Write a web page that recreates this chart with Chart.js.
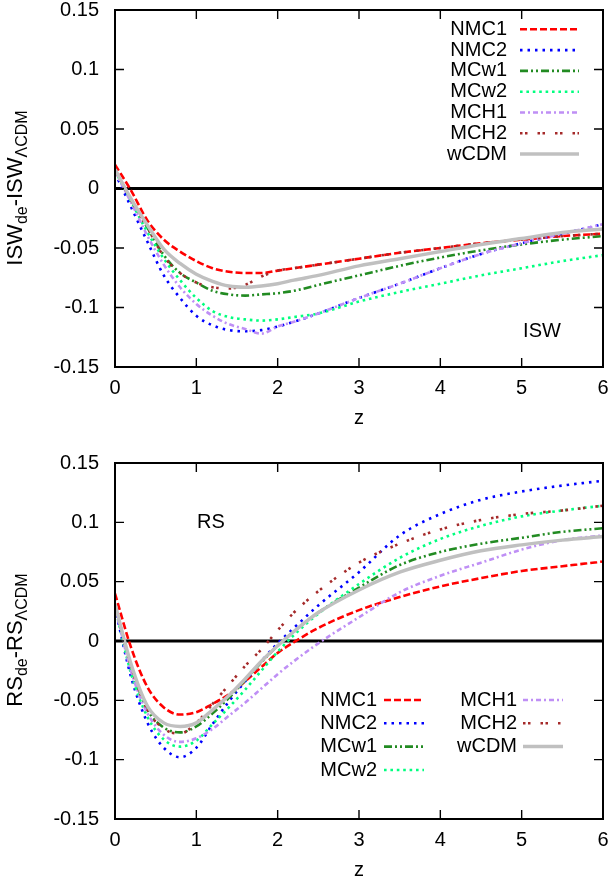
<!DOCTYPE html>
<html><head><meta charset="utf-8">
<script src="https://cdn.jsdelivr.net/npm/chart.js@4.4.1/dist/chart.umd.min.js"></script>
<style>
html,body{margin:0;padding:0;background:#fff;}
#wrap{position:relative;width:614px;height:883px;overflow:hidden;}
canvas{position:absolute;left:0;}
</style></head><body>
<div id="wrap">
<canvas id="isw" width="614" height="441" style="top:0"></canvas>
<canvas id="rs" width="614" height="442" style="top:441px"></canvas>
</div>
<script>
// ---------- DATA ----------
const seriesNames = ['NMC1','NMC2','MCw1','MCw2','MCH1','MCH2','wCDM'];
const z = [0,0.2,0.4,0.6,0.8,1.0,1.2,1.4,1.6,1.8,2.0,2.2,2.5,3.0,3.5,4.0,4.5,5.0,5.5,6.0];

// ISW_de - ISW_LCDM (top panel)
const iswNMC1 = [0.020,-0.002,-0.027,-0.043,-0.053,-0.061,-0.067,-0.070,-0.071,-0.071,-0.069,-0.067,-0.064,-0.059,-0.054,-0.050,-0.046,-0.043,-0.040,-0.038];
const iswNMC2 = [0.013,-0.016,-0.045,-0.073,-0.092,-0.107,-0.115,-0.119,-0.120,-0.119,-0.116,-0.112,-0.105,-0.092,-0.080,-0.067,-0.055,-0.046,-0.038,-0.030];
const iswMCw1 = [0.016,-0.010,-0.033,-0.056,-0.071,-0.079,-0.086,-0.089,-0.090,-0.089,-0.088,-0.086,-0.081,-0.073,-0.065,-0.058,-0.052,-0.047,-0.043,-0.040];
const iswMCw2 = [0.015,-0.011,-0.037,-0.059,-0.077,-0.092,-0.103,-0.108,-0.110,-0.111,-0.110,-0.108,-0.105,-0.095,-0.087,-0.080,-0.073,-0.067,-0.061,-0.056];
const iswMCH1 = [0.014,-0.012,-0.040,-0.064,-0.083,-0.097,-0.107,-0.114,-0.118,-0.122,-0.116,-0.112,-0.105,-0.092,-0.080,-0.067,-0.055,-0.046,-0.038,-0.030];
const iswMCH2 = [0.016,-0.010,-0.033,-0.057,-0.071,-0.079,-0.083,-0.084,-0.081,-0.074,-0.069,-0.067,-0.064,-0.059,-0.054,-0.050,-0.046,-0.043,-0.040,-0.038];
const iswWCDM = [0.016,-0.009,-0.031,-0.051,-0.063,-0.072,-0.078,-0.082,-0.083,-0.082,-0.080,-0.077,-0.073,-0.065,-0.059,-0.053,-0.047,-0.042,-0.037,-0.034];

// RS_de - RS_LCDM (bottom panel)
const rsNMC1 = [0.040,-0.006,-0.039,-0.056,-0.062,-0.060,-0.053,-0.045,-0.034,-0.022,-0.010,-0.001,0.011,0.026,0.037,0.046,0.053,0.059,0.063,0.067];
const rsNMC2 = [0.028,-0.031,-0.069,-0.090,-0.098,-0.090,-0.070,-0.051,-0.034,-0.017,-0.002,0.011,0.030,0.058,0.089,0.107,0.119,0.126,0.131,0.135];
const rsMCw1 = [0.031,-0.022,-0.058,-0.073,-0.077,-0.072,-0.061,-0.048,-0.033,-0.018,-0.004,0.008,0.024,0.045,0.064,0.075,0.082,0.087,0.092,0.095];
const rsMCw2 = [0.029,-0.028,-0.064,-0.083,-0.089,-0.084,-0.070,-0.056,-0.041,-0.025,-0.009,0.005,0.023,0.048,0.070,0.086,0.097,0.105,0.110,0.114];
const rsMCH1 = [0.029,-0.026,-0.061,-0.079,-0.085,-0.082,-0.074,-0.063,-0.052,-0.040,-0.028,-0.017,-0.002,0.020,0.041,0.055,0.066,0.077,0.085,0.089];
const rsMCH2 = [0.031,-0.022,-0.058,-0.074,-0.078,-0.069,-0.053,-0.037,-0.021,-0.007,0.009,0.024,0.042,0.066,0.082,0.094,0.102,0.107,0.110,0.114];
const rsWCDM = [0.031,-0.020,-0.055,-0.069,-0.072,-0.069,-0.058,-0.046,-0.032,-0.017,-0.004,0.008,0.024,0.043,0.058,0.068,0.076,0.081,0.085,0.088];

const xTickValues = [0,1,2,3,4,5,6];
const xTickLabels = ['0','1','2','3','4','5','6'];
const yTickValues = [-0.15,-0.1,-0.05,0,0.05,0.1,0.15];
const yTickLabels = ['-0.15','-0.1','-0.05','0','0.05','0.1','0.15'];

// ---------- STYLE ----------
const FONT = "'Liberation Sans', Arial, Helvetica, sans-serif";
const seriesStyles = [
  {color:'#ff0000', width:2.6, dash:[7,3]},
  {color:'#0000ff', width:2.6, dash:[2.5,5]},
  {color:'#228b22', width:2.6, dash:[8,3,2,3,2,3]},
  {color:'#00ff7f', width:2.6, dash:[2.6,3.8]},
  {color:'#bf8ff5', width:2.6, dash:[5,3,2,3]},
  {color:'#a52a2a', width:2.6, dash:[2.5,2.5,2.5,10]},
  {color:'#c0c0c0', width:3.5, dash:[]}
];

function makeDatasets(seriesList){
  return seriesList.map((vals,i)=>({
    label: seriesNames[i],
    data: z.map((x,k)=>({x:x, y:vals[k]})),
    borderColor: seriesStyles[i].color,
    backgroundColor: seriesStyles[i].color,
    borderWidth: seriesStyles[i].width,
    borderDash: seriesStyles[i].dash,
    borderCapStyle: 'butt',
    pointRadius: 0,
    fill: false,
    cubicInterpolationMode: 'monotone',
    order: seriesNames.length - i
  }));
}

const framePlugin = {
  id: 'frame',
  beforeDatasetsDraw(chart){
    const {ctx, chartArea:{left,right}, scales:{y}} = chart;
    const y0 = y.getPixelForValue(0);
    ctx.save();
    ctx.strokeStyle = '#000'; ctx.lineWidth = 3;
    ctx.beginPath(); ctx.moveTo(left, y0); ctx.lineTo(right, y0); ctx.stroke();
    ctx.restore();
  },
  afterDatasetsDraw(chart, args, opts){
    const {ctx, chartArea:{left,right,top,bottom}, scales:{x,y}} = chart;
    ctx.save();
    ctx.strokeStyle = '#000';
    ctx.lineWidth = 1.4;
    ctx.setLineDash([]);
    ctx.beginPath();
    const tl = 9;
    x.ticks.forEach(t=>{
      const px = x.getPixelForValue(t.value);
      if (px <= left+1 || px >= right-1) return;
      ctx.moveTo(px, bottom); ctx.lineTo(px, bottom - tl);
      ctx.moveTo(px, top); ctx.lineTo(px, top + tl);
    });
    y.ticks.forEach(t=>{
      const py = y.getPixelForValue(t.value);
      if (py <= top+1 || py >= bottom-1) return;
      ctx.moveTo(left, py); ctx.lineTo(left + tl, py);
      ctx.moveTo(right, py); ctx.lineTo(right - tl, py);
    });
    ctx.stroke();
    ctx.lineWidth = 2;
    ctx.strokeRect(left, top, right-left, bottom-top);

    // legend entries
    ctx.font = '20px ' + FONT;
    ctx.fillStyle = '#000';
    ctx.textAlign = 'right';
    ctx.textBaseline = 'middle';
    opts.legend.forEach(e=>{
      const ds = chart.data.datasets[e.index];
      ctx.fillStyle = '#000';
      ctx.fillText(ds.label, e.textRight, e.y);
      ctx.save();
      ctx.strokeStyle = ds.borderColor;
      ctx.lineWidth = ds.borderWidth;
      ctx.lineCap = 'butt';
      ctx.setLineDash(ds.borderDash);
      ctx.beginPath(); ctx.moveTo(e.x0, e.y); ctx.lineTo(e.x1, e.y); ctx.stroke();
      ctx.restore();
    });

    // panel label
    ctx.textAlign = 'center';
    ctx.fillText(opts.panelLabel.text, opts.panelLabel.x, opts.panelLabel.y);

    // rotated y-axis title with subscripts
    const parts = opts.yTitle.parts;
    const mainF = '22px ' + FONT, subF = '16px ' + FONT;
    let total = 0;
    parts.forEach(p=>{ ctx.font = p.sub ? subF : mainF; total += ctx.measureText(p.t).width; });
    ctx.translate(opts.yTitle.baseX, opts.yTitle.cy);
    ctx.rotate(-Math.PI/2);
    ctx.textAlign = 'left';
    ctx.textBaseline = 'alphabetic';
    let cx = -total/2;
    parts.forEach(p=>{
      ctx.font = p.sub ? subF : mainF;
      ctx.fillText(p.t, cx, p.sub ? 5 : 0);
      cx += ctx.measureText(p.t).width;
    });
    ctx.restore();
  }
};

function makeChart(id, seriesList, cfg){
  return new Chart(document.getElementById(id), {
    type: 'line',
    data: { datasets: makeDatasets(seriesList) },
    options: {
      responsive: false, animation: false, devicePixelRatio: 1,
      layout: { padding: { top: cfg.padTop, right: 11, left: 0, bottom: 0 } },
      plugins: {
        legend: { display: false },
        tooltip: { enabled: false },
        frame: { legend: cfg.legend, panelLabel: cfg.panelLabel, yTitle: cfg.yTitle }
      },
      scales: {
        x: {
          type: 'linear', min: 0, max: 6,
          afterBuildTicks: s => { s.ticks = xTickValues.map(v=>({value:v})); },
          afterFit: s => { s.height = cfg.xHeight; s.paddingLeft = 0; s.paddingRight = 0; s.paddingTop = 0; s.paddingBottom = 0; },
          ticks: { callback: (v,i)=>xTickLabels[i], padding: 9, color: '#000', font: { size: 20, family: FONT }, maxRotation: 0, autoSkip: false },
          grid: { display: false, drawTicks: false },
          border: { display: false },
          title: { display: true, text: 'z', color: '#000', font: { size: 20, family: FONT }, padding: { top: 0, bottom: cfg.titlePad } }
        },
        y: {
          min: -0.15, max: 0.15,
          afterBuildTicks: s => { s.ticks = yTickValues.map(v=>({value:v})); },
          afterFit: s => { s.width = 115; s.paddingTop = 0; s.paddingBottom = 0; s.paddingLeft = 0; s.paddingRight = 0; },
          ticks: { callback: (v,i)=>yTickLabels[i], padding: 16, color: '#000', font: { size: 20, family: FONT }, autoSkip: false },
          grid: { display: false, drawTicks: false },
          border: { display: false }
        }
      }
    },
    plugins: [framePlugin]
  });
}

const topLegend = [0,1,2,3,4,5,6].map(i=>({index:i, textRight:507, y:29.3 + i*20.8, x0:520, x1:579}));
makeChart('isw', [iswNMC1,iswNMC2,iswMCw1,iswMCw2,iswMCH1,iswMCH2,iswWCDM], {
  padTop: 10, xHeight: 74, titlePad: 11,
  legend: topLegend,
  panelLabel: { text: 'ISW', x: 542, y: 331 },
  yTitle: { baseX: 22, cy: 188, parts: [{t:'ISW'},{t:'de',sub:true},{t:'-ISW'},{t:'\u039BCDM',sub:true}] }
});

const botLegend = [
  {index:0, textRight:377, y:259, x0:384, x1:424},
  {index:1, textRight:377, y:282.3, x0:384, x1:424},
  {index:2, textRight:377, y:305.6, x0:384, x1:424},
  {index:3, textRight:377, y:329, x0:384, x1:424},
  {index:4, textRight:517, y:259, x0:523, x1:563},
  {index:5, textRight:517, y:282.3, x0:523, x1:563},
  {index:6, textRight:517, y:305.6, x0:523, x1:563}
];
makeChart('rs', [rsNMC1,rsNMC2,rsMCw1,rsMCw2,rsMCH1,rsMCH2,rsWCDM], {
  padTop: 22, xHeight: 64, titlePad: 1,
  legend: botLegend,
  panelLabel: { text: 'RS', x: 211, y: 81 },
  yTitle: { baseX: 22, cy: 199, parts: [{t:'RS'},{t:'de',sub:true},{t:'-RS'},{t:'\u039BCDM',sub:true}] }
});
</script>
</body></html>
